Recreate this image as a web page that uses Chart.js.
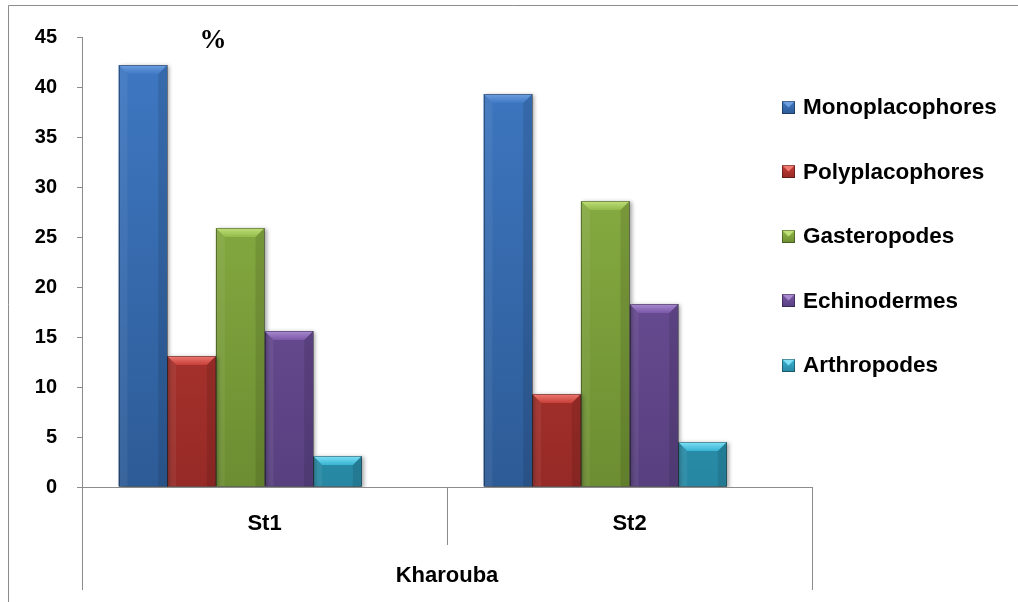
<!DOCTYPE html>
<html>
<head>
<meta charset="utf-8">
<script src="https://cdn.jsdelivr.net/npm/chart.js@4/dist/chart.umd.min.js"></script>
<style>
  html, body { margin: 0; padding: 0; background: #ffffff; }
  #wrap { width: 1018px; height: 602px; }
</style>
</head>
<body>
<div id="wrap"><canvas id="chart" width="1018" height="602"></canvas></div>
<script>
// Stations along the Kharouba transect
const stations = ['St1', 'St2'];
const siteName = 'Kharouba';
const unitLabel = '%';

// Share of each taxon per station (%)
const monoplacophores = [42.2, 39.3];
const polyplacophores = [13.1, 9.3];
const gasteropodes   = [25.9, 28.6];
const echinodermes   = [15.6, 18.3];
const arthropodes    = [3.1, 4.5];

// Value axis
const yMin = 0;
const yMax = 45;
const yStep = 5;

const taxa = [
  { label: 'Monoplacophores', data: monoplacophores },
  { label: 'Polyplacophores', data: polyplacophores },
  { label: 'Gasteropodes',    data: gasteropodes },
  { label: 'Echinodermes',    data: echinodermes },
  { label: 'Arthropodes',     data: arthropodes }
];

// Fill colours: [light top, dark bottom, bevel highlight]
const palette = [
  ['#3f79c4', '#2d5b96', '#6f9fe0'],
  ['#c63f38', '#962a26', '#ee7a72'],
  ['#94ba4a', '#6c8d31', '#c0e07a'],
  ['#7b58a8', '#58407f', '#a98ad0'],
  ['#38b4d3', '#2787a2', '#7fe0f6']
];

const FONT = '"Liberation Sans", Arial, sans-serif';
const AXIS_GREY = '#8c8c8c';

function verticalGradient(ctx, top, bottom, c0, c1) {
  const g = ctx.createLinearGradient(0, top, 0, bottom);
  g.addColorStop(0, c0);
  g.addColorStop(1, c1);
  return g;
}

const datasets = taxa.map((t, i) => ({
  label: t.label,
  data: t.data,
  backgroundColor: (c) => {
    const area = c.chart.chartArea;
    if (!area) return palette[i][0];
    return verticalGradient(c.chart.ctx, area.top, area.bottom, palette[i][0], palette[i][1]);
  },
  borderWidth: 0
}));
// empty trailing slot of each cluster (keeps the cluster sitting left of the station centre)
datasets.push({ label: '', data: stations.map(() => null), backgroundColor: 'rgba(0,0,0,0)' });

const decorations = {
  id: 'decorations',
  beforeDraw(chart) {
    const ctx = chart.ctx;
    ctx.save();
    ctx.strokeStyle = AXIS_GREY;
    ctx.lineWidth = 1;
    ctx.beginPath();
    ctx.moveTo(8.5, chart.height + 2);
    ctx.lineTo(8.5, 5.5);
    ctx.lineTo(chart.width + 2, 5.5);
    ctx.stroke();
    ctx.restore();
  },
  beforeDatasetsDraw(chart) {
    const ctx = chart.ctx;
    ctx.save();
    ctx.shadowColor = 'rgba(0,0,0,0.35)';
    ctx.shadowBlur = 4;
    ctx.shadowOffsetX = 2;
    ctx.shadowOffsetY = 1;
  },
  afterDatasetsDraw(chart) {
    const ctx = chart.ctx;
    ctx.restore();
    ctx.save();
    taxa.forEach((t, di) => {
      const meta = chart.getDatasetMeta(di);
      meta.data.forEach((el) => {
        const p = el.getProps(['x', 'y', 'base', 'width'], true);
        if (p.y == null || isNaN(p.y)) return;
        const l = p.x - p.width / 2, r = p.x + p.width / 2;
        const top = Math.min(p.y, p.base), bot = Math.max(p.y, p.base);
        const b = Math.min(9, (bot - top) / 2);
        // side facets
        ctx.fillStyle = 'rgba(255,255,255,0.06)';
        ctx.beginPath();
        ctx.moveTo(l, top); ctx.lineTo(l + b, top + b); ctx.lineTo(l + b, bot); ctx.lineTo(l, bot);
        ctx.closePath(); ctx.fill();
        ctx.fillStyle = 'rgba(0,0,0,0.10)';
        ctx.beginPath();
        ctx.moveTo(r, top); ctx.lineTo(r - b, top + b); ctx.lineTo(r - b, bot); ctx.lineTo(r, bot);
        ctx.closePath(); ctx.fill();
        // top bevel
        ctx.fillStyle = verticalGradient(ctx, top, top + b, palette[di][2], palette[di][0]);
        ctx.beginPath();
        ctx.moveTo(l, top); ctx.lineTo(r, top); ctx.lineTo(r - b, top + b); ctx.lineTo(l + b, top + b);
        ctx.closePath(); ctx.fill();
        // outline
        ctx.strokeStyle = 'rgba(0,0,0,0.35)';
        ctx.lineWidth = 1;
        ctx.strokeRect(Math.round(l) + 0.5, Math.round(top) + 0.5, Math.round(r - l) - 1, Math.round(bot - top) - 1);
      });
    });
    ctx.restore();
  },
  afterDraw(chart) {
    const ctx = chart.ctx;
    const area = chart.chartArea;
    const xs = chart.scales.x;
    ctx.save();

    // category group frame under the axis
    const x0 = Math.round(area.left) + 0.5;
    const x2 = Math.round(area.right) + 0.5;
    const mid = Math.round((xs.getPixelForValue(0) + xs.getPixelForValue(1)) / 2) + 0.5;
    ctx.strokeStyle = AXIS_GREY;
    ctx.lineWidth = 1;
    ctx.beginPath();
    ctx.moveTo(x0, area.bottom); ctx.lineTo(x0, area.bottom + 103);
    ctx.moveTo(x2, area.bottom); ctx.lineTo(x2, area.bottom + 103);
    ctx.moveTo(mid, area.bottom); ctx.lineTo(mid, area.bottom + 58);
    ctx.stroke();

    ctx.fillStyle = '#000';
    ctx.textAlign = 'center';
    ctx.textBaseline = 'middle';
    ctx.font = 'bold 22px ' + FONT;
    ctx.fillText(siteName, (area.left + area.right) / 2, area.bottom + 89);

    // unit mark
    ctx.font = 'bold 27px "Liberation Serif", "DejaVu Serif", serif';
    ctx.fillText(unitLabel, 213, 41);

    // legend
    ctx.textAlign = 'left';
    ctx.font = 'bold 22.5px ' + FONT;
    taxa.forEach((t, i) => {
      const cy = 107 + i * 64.5;
      const bx = 782, by = Math.round(cy - 6.5), s = 13;
      ctx.fillStyle = verticalGradient(ctx, by, by + s, palette[i][0], palette[i][1]);
      ctx.fillRect(bx, by, s, s);
      ctx.fillStyle = palette[i][2];
      ctx.beginPath();
      ctx.moveTo(bx, by); ctx.lineTo(bx + s, by); ctx.lineTo(bx + s / 2, by + s / 2); ctx.closePath();
      ctx.fill();
      ctx.strokeStyle = 'rgba(0,0,0,0.35)';
      ctx.strokeRect(bx + 0.5, by + 0.5, s - 1, s - 1);
      ctx.fillStyle = '#000';
      ctx.fillText(t.label, 803, cy + 1);
    });
    ctx.restore();
  }
};

new Chart(document.getElementById('chart'), {
  type: 'bar',
  data: { labels: stations, datasets },
  options: {
    responsive: false,
    animation: false,
    layout: { padding: { left: 0, top: 37, right: 206, bottom: 0 } },
    datasets: { bar: { categoryPercentage: 0.8, barPercentage: 1 } },
    plugins: { legend: { display: false }, tooltip: { enabled: false } },
    scales: {
      x: {
        offset: true,
        grid: { display: false, drawTicks: false },
        border: { display: true, color: AXIS_GREY, width: 1 },
        ticks: { color: '#000', font: { family: FONT, weight: 'bold', size: 22 }, padding: 24 },
        afterFit(s) { s.height = 115; }
      },
      y: {
        min: yMin,
        max: yMax,
        ticks: { stepSize: yStep, color: '#000', font: { family: FONT, weight: 'bold', size: 20 }, padding: 20 },
        grid: { drawOnChartArea: false, drawTicks: true, tickLength: 5, color: AXIS_GREY },
        border: { display: true, color: AXIS_GREY, width: 1 },
        afterFit(s) { s.width = 82; }
      }
    }
  },
  plugins: [decorations]
});
</script>
</body>
</html>
